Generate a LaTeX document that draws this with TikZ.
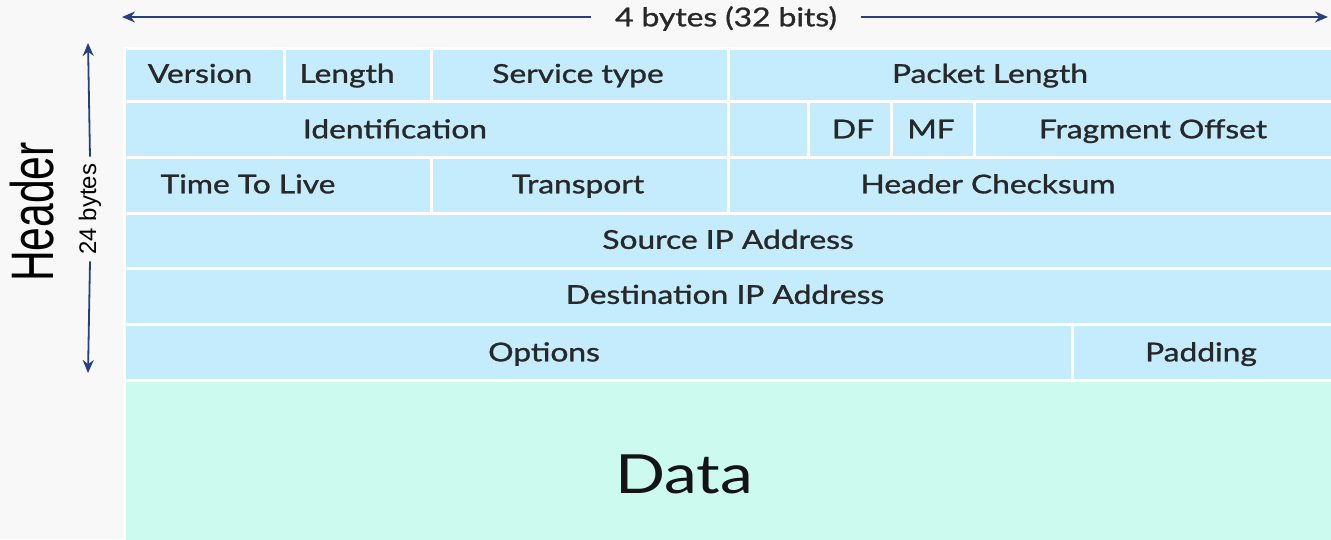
\documentclass[tikz,border=0pt]{standalone}
\usepackage{fontspec}
\setmainfont{Lato}
\newfontfamily\fieldfont{Lato}[FakeBold=1.0]
\newfontfamily\arialfont{Liberation Sans}
\usetikzlibrary{arrows.meta}
\definecolor{bgpaper}{RGB}{248,248,248}
\definecolor{hdrblue}{RGB}{196,236,252}
\definecolor{datamint}{RGB}{204,250,238}
\definecolor{arrownavy}{RGB}{36,64,128}
\definecolor{inktext}{RGB}{40,40,40}
% field labels are set slightly wide
\newcommand{\wide}[1]{\scalebox{1.22}[1]{#1}}
% a header field: name, left, top, right, bottom
\newcommand{\fieldcell}[5]{%
  \node[cellbox, minimum width={(#4-#2)*1pt}, minimum height={(#5-#3)*1pt}] (#1) at (#2,#3) {};}

\begin{document}
\begin{tikzpicture}[x=1pt,y=-1pt,
  cellbox/.style={draw=white, line width=2.5pt, fill=hdrblue, inner sep=0pt, anchor=north west},
  lbl/.style={text=inktext, font=\fieldfont\fontsize{26}{28}\selectfont, inner sep=0pt,
    text height=18.7pt, text depth=0pt},
  dimarrow/.style={draw=arrownavy, line width=1.8pt, -{Stealth[length=13pt,width=11pt]}}]

\useasboundingbox (0,0) rectangle (1331,539);
\fill[bgpaper] (0,0) rectangle (1331,539);

% row 1
\fieldcell{version}{123}{47}{283}{100}
\fieldcell{ihl}{283}{47}{430}{100}
\fieldcell{tos}{430}{47}{727}{100}
\fieldcell{pktlen}{727}{47}{1340}{100}
% row 2
\fieldcell{ident}{123}{100}{727}{156}
\fieldcell{rsv}{727}{100}{807}{156}
\fieldcell{df}{807}{100}{890}{156}
\fieldcell{mf}{890}{100}{973}{156}
\fieldcell{fragoff}{973}{100}{1340}{156}
% row 3
\fieldcell{ttl}{123}{156}{430}{212}
\fieldcell{proto}{430}{156}{727}{212}
\fieldcell{chksum}{727}{156}{1340}{212}
% rows 4-6
\fieldcell{srcip}{123}{212}{1340}{267}
\fieldcell{dstip}{123}{267}{1340}{323}
\fieldcell{opts}{123}{323}{1071}{379}
\fieldcell{pad}{1071}{323}{1340}{379}
% payload
\node[cellbox, fill=datamint, minimum width=1217pt, minimum height=170pt] (data) at (123,379) {};

% field labels
\node[lbl] (t-version) at (200,73.5) {\wide{Version}};
\node[lbl] (t-ihl) at (347,73.5) {\wide{Length}};
\node[lbl] (t-tos) at (578,73.5) {\wide{Service type}};
\node[lbl] (t-pktlen) at (990,73.5) {\wide{Packet Length}};
\node[lbl] (t-ident) at (395,129) {\wide{Identification}};
\node[lbl] (t-df) at (853,129) {\wide{DF}};
\node[lbl] (t-mf) at (931,129) {\wide{MF}};
\node[lbl] (t-fragoff) at (1153,129) {\wide{Fragment Offset}};
\node[lbl] (t-ttl) at (248,184) {\wide{Time To Live}};
\node[lbl] (t-proto) at (578,184) {\wide{Transport}};
\node[lbl] (t-chksum) at (988,184) {\wide{Header Checksum}};
\node[lbl] (t-srcip) at (728,239.5) {\wide{Source IP Address}};
\node[lbl] (t-dstip) at (725,294.5) {\wide{Destination IP Address}};
\node[lbl] (t-opts) at (544,352) {\wide{Options}};
\node[lbl] (t-pad) at (1201,352) {\wide{Padding}};
\node[text=black!92, font=\fontsize{54}{54}\selectfont, inner sep=0pt,
  text height=38.9pt, text depth=0pt] (t-data) at (684,474) {\wide{Data}};

% word width dimension
\coordinate (hleft) at (122,17);
\coordinate (hright) at (1328,17);
\node[lbl, outer xsep=24pt] (wordw) at (726,17) {\wide{4 bytes (32 bits)}};
\draw[dimarrow] (wordw.west) -- (hleft);
\draw[dimarrow] (wordw.east) -- (hright);

% header length dimension
\coordinate (vtop) at (88,43);
\coordinate (vbot) at (88,373);
\node[font=\arialfont\fontsize{24}{24}\selectfont, rotate=90, inner sep=0pt, outer xsep=7pt] (hdrlen) at (90,209) {24 bytes};
\draw[dimarrow] (hdrlen.east) -- (vtop);
\draw[dimarrow] (hdrlen.west) -- (vbot);

% side title
\node[font=\arialfont\fontsize{60}{60}\selectfont, rotate=90, inner sep=0pt] (hdrtitle) at (32,212) {\scalebox{0.71}[1]{Header}};
\end{tikzpicture}
\end{document}
